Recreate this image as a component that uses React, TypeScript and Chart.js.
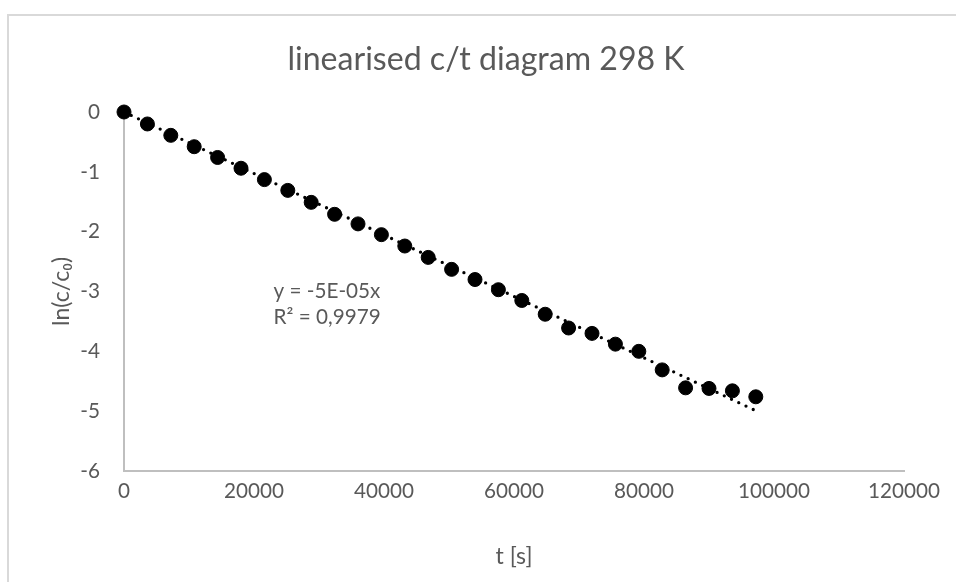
import { useEffect, useRef } from "react";
import { Chart, registerables } from "chart.js";

Chart.register(...registerables);

// ---- data ----
const times = [
  0, 3600, 7200, 10800, 14400, 18000, 21600, 25200, 28800, 32400, 36000, 39600,
  43200, 46800, 50400, 54000, 57600, 61200, 64800, 68400, 72000, 75600, 79200,
  82800, 86400, 90000, 93600, 97200,
];
const lnValues = [
  0, -0.2, -0.39, -0.58, -0.76, -0.94, -1.13, -1.31, -1.51, -1.71, -1.87, -2.05,
  -2.24, -2.43, -2.63, -2.8, -2.97, -3.15, -3.38, -3.61, -3.7, -3.88, -4.0,
  -4.31, -4.61, -4.62, -4.66, -4.76,
];
const xTicks = [0, 20000, 40000, 60000, 80000, 100000, 120000];
const yTicks = [0, -1, -2, -3, -4, -5, -6];

const chartTitle = "linearised c/t diagram 298 K";
const xTitle = "t [s]";
const yTitle = "ln(c/c\u2080)";
const trendLabel = ["y = -5E-05x", "R\u00b2 = 0,9979"];
const trendLabelAnchor = [23000, -3];

// trendline through the origin (least squares), as the spreadsheet fits it
const slope =
  times.reduce((s, t, i) => s + t * lnValues[i], 0) /
  times.reduce((s, t) => s + t * t, 0);
const trendPoints = [
  { x: times[0], y: slope * times[0] },
  { x: times[times.length - 1], y: slope * times[times.length - 1] },
];

const TEXT = "#595959";
const FONT = "Lato";

// pick a font size so that a sample string has the reference's width
function fitSize(text: string, width: number, fallback: number) {
  const c = document.createElement("canvas").getContext("2d");
  if (!c) return fallback;
  c.font = `100px ${FONT}`;
  const w = c.measureText(text).width;
  if (!w) return fallback;
  return Math.round((100 * width) / w * 10) / 10;
}

export default function App() {
  const ref = useRef<HTMLCanvasElement | null>(null);

  useEffect(() => {
    if (!ref.current) return;
    Chart.defaults.font.family = FONT;

    const titleSize = fitSize(chartTitle, 398, 32);
    const tickSize = fitSize("20000", 60, 20);
    const labelSize = fitSize(trendLabel[0], 107, 20);
    const axisTitleSize = fitSize(xTitle, 37, 23);

    const lh = (s: number) => s * 1.2;
    const titleTop = 60 - lh(titleSize) / 2;
    const titleBottom = 112 - titleTop - lh(titleSize);

    const trendLabelPlugin = {
      id: "trendLabel",
      afterDatasetsDraw(chart: any) {
        const { ctx, scales } = chart;
        const x = scales.x.getPixelForValue(trendLabelAnchor[0]);
        const y = scales.y.getPixelForValue(trendLabelAnchor[1]);
        ctx.save();
        ctx.font = `${labelSize}px ${FONT}`;
        ctx.fillStyle = TEXT;
        ctx.textAlign = "left";
        ctx.textBaseline = "middle";
        trendLabel.forEach((t, i) => ctx.fillText(t, x, y + i * 26));
        ctx.restore();
      },
    };

    const chart = new Chart(ref.current, {
      type: "scatter",
      data: {
        datasets: [
          {
            type: "line",
            label: "trend",
            data: trendPoints,
            borderColor: "#000",
            borderWidth: 3.3,
            borderDash: [0, 8],
            borderCapStyle: "round",
            pointRadius: 0,
            fill: false,
            clip: false,
          } as any,
          {
            label: "ln(c/c0)",
            data: times.map((t, i) => ({ x: t, y: lnValues[i] })),
            backgroundColor: "#000",
            borderColor: "#000",
            borderWidth: 1,
            pointRadius: 7,
            pointHoverRadius: 7,
            clip: false,
          } as any,
        ],
      },
      options: {
        responsive: false,
        animation: false,
        devicePixelRatio: 1,
        layout: { padding: 0 },
        plugins: {
          legend: { display: false },
          tooltip: { enabled: false },
          title: {
            display: true,
            text: chartTitle,
            color: TEXT,
            font: { family: FONT, size: titleSize, weight: "normal" },
            padding: { top: titleTop, bottom: titleBottom },
          },
        },
        scales: {
          x: {
            type: "linear",
            min: 0,
            max: 120000,
            afterBuildTicks: (s: any) => {
              s.ticks = xTicks.map((v) => ({ value: v }));
            },
            afterFit: (s: any) => {
              s.height = 111;
            },
            grid: { display: false, drawTicks: false },
            border: { display: true, color: "#bfbfbf", width: 2 },
            ticks: {
              color: TEXT,
              font: { family: FONT, size: tickSize },
              padding: 491 - 471 - lh(tickSize) / 2,
              maxRotation: 0,
              autoSkip: false,
              callback: (v: any) => String(v),
            },
            title: {
              display: true,
              text: xTitle,
              color: TEXT,
              font: { family: FONT, size: axisTitleSize },
              padding: { top: 0, bottom: 582 - 557 - lh(axisTitleSize) / 2 },
            },
          },
          y: {
            type: "linear",
            min: -6,
            max: 0,
            afterBuildTicks: (s: any) => {
              s.ticks = yTicks.map((v) => ({ value: v }));
            },
            afterFit: (s: any) => {
              s.width = 124;
            },
            grid: { display: false, drawTicks: false },
            border: { display: true, color: "#bfbfbf", width: 2 },
            ticks: {
              color: TEXT,
              font: { family: FONT, size: tickSize },
              padding: 24,
              callback: (v: any) => String(v),
            },
            title: {
              display: true,
              text: yTitle,
              color: TEXT,
              font: { family: FONT, size: axisTitleSize },
              padding: { top: 62 - lh(axisTitleSize) / 2, bottom: 0 },
            },
          },
          yRight: {
            type: "linear",
            position: "right",
            display: true,
            grid: { display: false, drawTicks: false },
            border: { display: false },
            ticks: { display: false },
            afterFit: (s: any) => {
              s.width = 68;
            },
          },
        },
      } as any,
      plugins: [trendLabelPlugin],
    });
    return () => chart.destroy();
  }, []);

  return (
    <div
      style={{
        position: "fixed",
        left: 0,
        top: 0,
        width: 956,
        height: 582,
        overflow: "hidden",
        background: "#fff",
      }}
    >
      <div
        style={{
          position: "absolute",
          left: 7,
          top: 14,
          width: 2000,
          height: 2000,
          border: "2px solid #d9d9d9",
          boxSizing: "border-box",
        }}
      />
      <canvas
        ref={ref}
        width={972}
        height={582}
        style={{ position: "absolute", left: 0, top: 0, width: 972, height: 582 }}
      />
    </div>
  );
}
